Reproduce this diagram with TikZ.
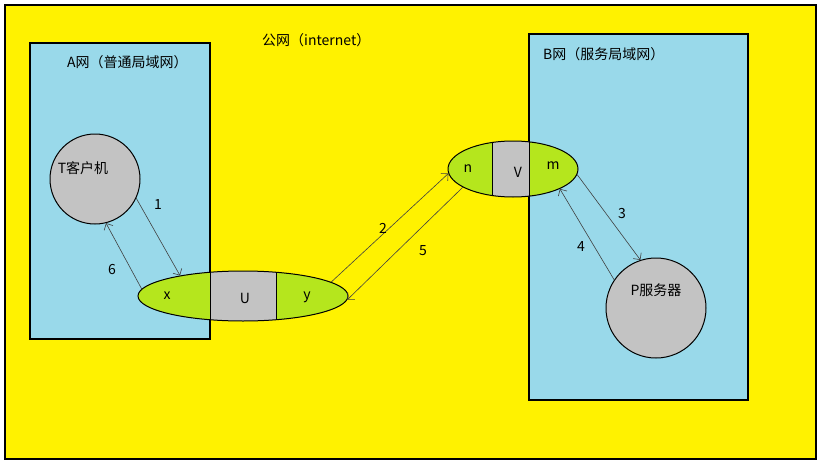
\documentclass[tikz,border=0pt]{standalone}
\usepackage{fontspec}
\newfontfamily\cjk{Noto Sans CJK SC}
\usetikzlibrary{shapes.geometric,arrows.meta,calc}

\definecolor{bgyellow}{HTML}{FFF200}
\definecolor{lanblue}{HTML}{99D9EA}
\definecolor{natgreen}{HTML}{B5E61D}
\definecolor{hostgray}{HTML}{C3C3C3}

\tikzset{
  lan/.style={draw=black, line width=1.3pt, fill=lanblue},
  host/.style={circle, draw=black, line width=1pt, fill=hostgray, inner sep=0pt},
  nat/.style={ellipse, draw=black, line width=1pt, fill=natgreen, inner sep=0pt},
  flow/.style={draw=black!75, line width=0.6pt, -{Straight Barb[length=5pt,width=10pt]}},
  txt/.style={font=\cjk\fontsize{14}{16}\selectfont, inner sep=0pt},
}

\begin{document}
\begin{tikzpicture}[x=1pt, y=-1pt]

		\useasboundingbox (0,0) rectangle (819,460);

		% Background: the public network
		\fill[white] (0,0) rectangle (819,460);
		\draw[fill=bgyellow, line width=1.5pt] (5,5) rectangle (816,459);
		\node[txt, anchor=west] (inet) at (262,40) {公网（internet）};

		% The two local networks
		\draw[lan] (30,43) rectangle (210,339);
		\draw[lan] (529,34) rectangle (748,400);
		\node[txt, anchor=west] (alan) at (67,62) {A网（普通局域网）};
		\node[txt, anchor=west] (blan) at (543,54) {B网（服务局域网）};

		% Hosts
		\node[host, minimum size=90pt] (T) at (95,179) {};
		\node[host, minimum size=100pt] (P) at (656,308) {};
		\node[txt] (tlabel) at (83,168) {T客户机};
		\node[txt] (plabel) at (656,290) {P服务器};

		% NAT gateways
		\node[nat, minimum width=210pt, minimum height=50pt,
			path picture={
				\fill[hostgray] ($(path picture bounding box.center)+(-33,-30)$) rectangle ($(path picture bounding box.center)+(33,30)$);
				\draw[line width=1pt] ($(path picture bounding box.center)+(-33,-30)$) -- ++(0,60);
				\draw[line width=1pt] ($(path picture bounding box.center)+(33,-30)$) -- ++(0,60);
			}] (U) at (243,296) {};
		\node[nat, minimum width=130pt, minimum height=56pt,
			path picture={
				\fill[hostgray] ($(path picture bounding box.center)+(-21,-30)$) rectangle ($(path picture bounding box.center)+(16,30)$);
				\draw[line width=1pt] ($(path picture bounding box.center)+(-21,-30)$) -- ++(0,60);
				\draw[line width=1pt] ($(path picture bounding box.center)+(16,-30)$) -- ++(0,60);
			}] (V) at (513,169) {};

		% Port labels
		\node[txt] (x) at (167,296) {x};
		\node[txt] (u) at (245,298) {U};
		\node[txt] (y) at (307,297) {y};
		\node[txt] (n) at (468,169) {n};
		\node[txt] (v) at (518,172) {V};
		\node[txt] (m) at (553,166) {m};

		% Packet flow
		\draw[flow] (T.-25) -- (U.162);
		\draw[flow] (U.9) -- (V.184);
		\draw[flow] (V.-5) -- (P.108);
		\draw[flow] (P.146) -- (V.-23);
		\draw[flow] (V.200) -- (U.-2);
		\draw[flow] (U.176) -- (T.-76);

		% Step numbers
		\node[txt] (s1) at (158,205) {1};
		\node[txt] (s2) at (383,228) {2};
		\node[txt] (s3) at (622,214) {3};
		\node[txt] (s4) at (581,247) {4};
		\node[txt] (s5) at (423,251) {5};
		\node[txt] (s6) at (112,270) {6};

	\end{tikzpicture}
\end{document}
